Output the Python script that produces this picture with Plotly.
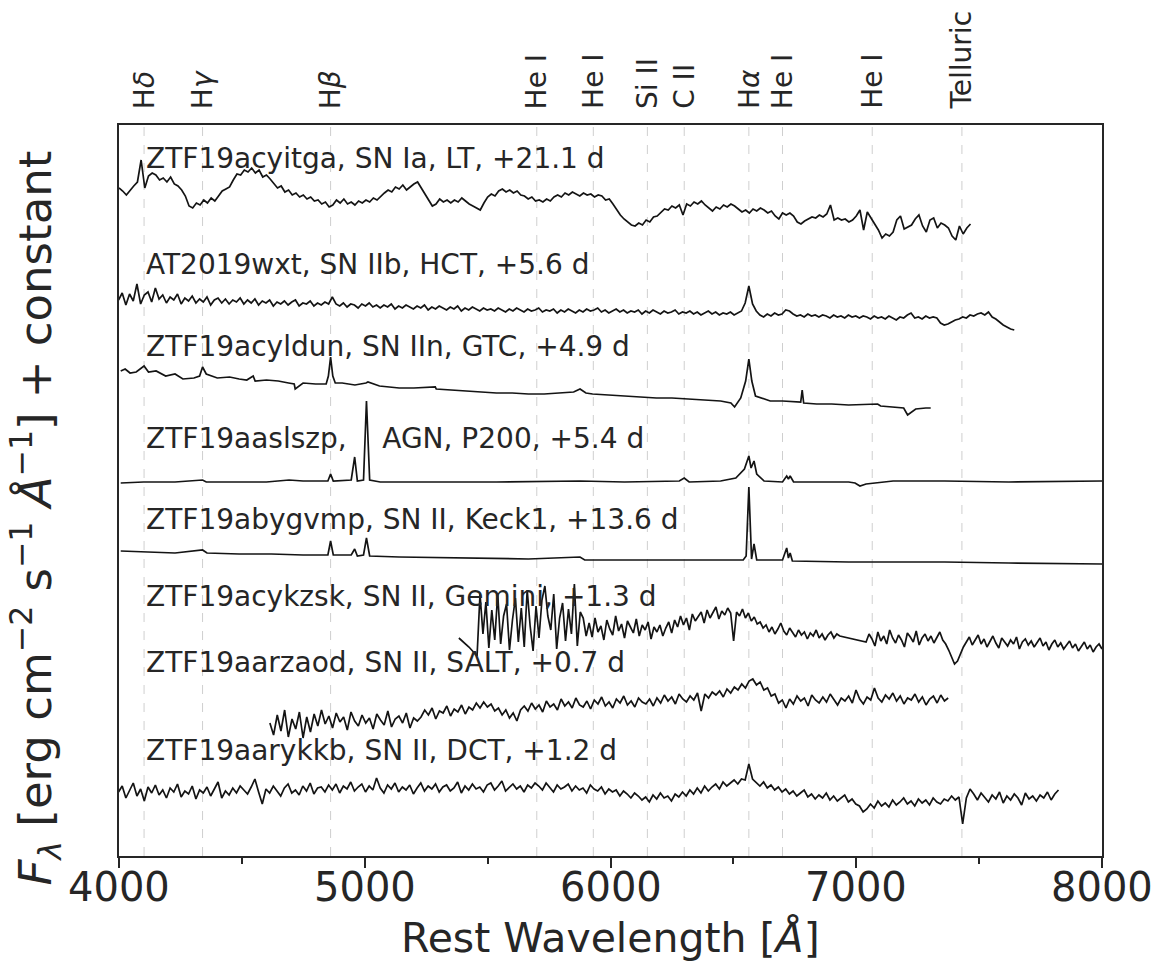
import plotly.graph_objects as go

# --- Spectra: rest wavelength [Å] and scaled flux + constant offset ---
# Coarsely resampled spectra are listed as explicit (wave, flux) pairs; the
# densely sampled ones are given on their uniform wavelength grid (start, step).
ztf19acyitga_start, ztf19acyitga_step = 4000, 15
ztf19acyitga_flux = [668, 665, 661, 666, 670, 674, 696, 668, 680, 683, 681, 676, 678, 674, 679, 672, 670, 666,
                     660, 650, 648, 653, 651, 656, 653, 658, 655, 660, 665, 667, 669, 676, 682, 681, 686, 684,
                     688, 683, 686, 679, 681, 677, 672, 668, 670, 664, 666, 661, 663, 659, 661, 657, 659, 655,
                     656, 652, 654, 649, 651, 656, 653, 657, 652, 654, 651, 655, 653, 656, 654, 658, 656, 660,
                     663, 666, 664, 669, 667, 671, 666, 669, 672, 674, 668, 661, 655, 650, 652, 657, 654, 656,
                     653, 656, 654, 658, 655, 652, 650, 648, 646, 653, 659, 662, 660, 665, 667, 664, 666, 663,
                     665, 661, 660, 657, 659, 655, 656, 654, 657, 655, 659, 661, 659, 663, 661, 664, 662, 660,
                     663, 661, 662, 659, 661, 660, 656, 657, 652, 646, 641, 637, 634, 631, 630, 633, 631, 636,
                     634, 639, 640, 644, 647, 646, 650, 648, 651, 641, 652, 650, 654, 652, 655, 651, 648, 645,
                     649, 647, 651, 649, 652, 650, 647, 644, 646, 643, 647, 645, 648, 646, 643, 645, 640, 637,
                     643, 641, 643, 640, 634, 632, 635, 637, 639, 638, 641, 639, 642, 651, 636, 638, 636, 637,
                     634, 636, 640, 646, 626, 644, 638, 633, 626, 618, 622, 620, 624, 636, 640, 627, 629, 631,
                     637, 641, 630, 624, 636, 638, 628, 633, 631, 628, 620, 616, 630, 622, 628, 632]

at2019wxt_start, at2019wxt_step = 3998, 15
at2019wxt_flux = [556, 563, 551, 562, 555, 572, 552, 561, 564, 554, 568,
                  557, 561, 553, 559, 556, 562, 552, 558, 555, 560, 553, 557, 554, 559, 551, 556, 558, 553,
                  557, 552, 556, 554, 558,
                  552, 556, 553, 557, 551, 555, 553, 556, 550, 554, 552, 555, 551, 554, 556, 550, 553, 552,
                  555, 550, 553, 551, 554, 552,
                  559,
                  552, 550, 553, 549, 552, 551, 548, 552, 550, 553, 549, 551, 548, 551, 549, 552, 547, 550,
                  548, 551, 549, 547, 550, 548, 551, 546, 549, 547, 550, 548, 546, 549, 547, 550, 545, 548,
                  546, 549, 547, 545, 548, 546,
                  547, 545, 548, 546, 544, 547, 545, 548, 546, 544, 547, 545, 546, 548, 544, 546, 545, 547,
                  543, 546, 544, 547, 545, 543, 546, 544, 547, 545, 546, 548, 544, 546, 543, 545, 547, 544,
                  546, 543, 545, 544, 546, 542, 545, 543, 546, 544, 542, 545, 543, 544, 546, 542, 544, 543,
                  545, 542, 544, 541, 543, 545, 542, 544, 541, 543, 542, 544, 541, 543,
                  545, 553, 570, 552, 545,
                  541, 539, 542, 540, 543, 541, 542, 546, 545, 542, 540, 541, 539, 542, 540, 541, 539, 541,
                  540, 538, 541, 539, 540, 538, 541, 539, 540,
                  538, 540, 539, 537, 540, 538, 539, 537, 540, 538, 536, 539, 538, 541, 543, 538, 539, 537,
                  540, 538, 539, 538,
                  533, 531, 532, 534, 536,
                  537, 539, 538, 541, 540, 542, 543, 541, 544, 539, 537, 534, 531, 529, 527, 526]

ztf19acyldun_wave = [4007, 4025, 4045, 4070, 4102, 4120, 4151, 4190, 4228, 4260, 4305, 4328, 4340, 4355, 4400,
                     4450, 4489, 4520, 4546, 4554, 4600, 4648, 4690, 4713, 4717, 4749, 4800, 4843, 4852, 4861,
                     4870, 4880, 4908, 4960, 5005, 5013, 5060, 5140, 5200, 5287, 5291, 5350, 5405, 5470, 5536,
                     5600, 5666, 5730, 5796, 5850, 5876, 5900, 5927, 6000, 6057, 6120, 6187, 6250, 6318, 6380,
                     6448, 6490, 6505, 6530, 6550, 6563, 6575, 6590, 6650, 6700, 6774, 6780, 6786, 6839, 6900,
                     6969, 7040, 7087, 7099, 7150, 7193, 7209, 7242, 7283, 7303]
ztf19acyldun_flux = [485, 487, 483, 484, 490, 484, 485, 480, 482, 477, 478, 480, 489, 482, 478,
                     479, 477, 476, 480, 475, 476, 475, 473, 472, 467, 473, 472, 472, 480, 499,
                     480, 473, 473, 471, 473, 474, 470, 468, 468, 469, 467, 466, 465, 464, 463,
                     463, 462, 462, 463, 464, 467, 463, 462, 461, 460, 459, 458, 458, 457, 456,
                     455, 453, 449, 458, 475, 497, 475, 460, 455, 455, 454, 466, 453, 452, 452,
                     451, 452, 452, 450, 449, 448, 441, 447, 448, 448]

ztf19aaslszp_wave = [4007, 4100, 4228, 4340, 4355, 4489, 4600, 4692, 4749, 4850, 4861, 4872, 4945, 4959, 4970,
                     4995, 5007, 5020, 5063, 5275, 5536, 5876, 6057, 6280, 6300, 6320, 6448, 6510, 6545, 6563,
                     6572, 6584, 6595, 6625, 6700, 6717, 6724, 6731, 6745, 6969, 6995, 7015, 7040, 7150, 7360,
                     7621, 7886, 8000]
ztf19aaslszp_flux = [373, 374, 374, 376, 374, 374, 374, 376, 375, 375, 382, 375, 376, 399, 375,
                     376, 455, 376, 374, 374, 374, 375, 374, 375, 378, 374, 375, 378, 387, 400,
                     388, 395, 382, 375, 374, 380, 377, 380, 374, 374, 373, 370, 372, 375, 375,
                     374, 375, 375]

ztf19abygvmp_wave = [4007, 4100, 4228, 4340, 4358, 4489, 4620, 4749, 4850, 4861, 4872, 4945, 4959, 4970, 4995,
                     5007, 5020, 5140, 5405, 5666, 5876, 5895, 6187, 6318, 6540, 6552, 6563, 6574, 6584, 6595,
                     6700, 6717, 6724, 6731, 6740, 6969, 7360, 7621, 8000]
ztf19abygvmp_flux = [305, 304, 303, 306, 303, 302, 302, 301, 301, 315, 301, 301, 307, 300, 301,
                     318, 300, 299, 298, 297, 299, 296, 296, 296, 296, 300, 369, 297, 312, 296,
                     296, 308, 298, 303, 295, 294, 294, 293, 292]

# Gemini spectrum: short blue tail, two uniformly sampled chunks with a chip gap between
ztf19acykzsk_head_wave = [5383, 5424, 5457]
ztf19acykzsk_head_flux = [218, 209, 200]
ztf19acykzsk_a_start, ztf19acykzsk_a_step = 5469, 12
ztf19acykzsk_a_flux = [262,
                       222, 254, 208, 246, 216, 262, 212, 240, 252, 206, 236, 258, 214, 248, 209, 266, 230, 205,
                       250, 218, 256, 270, 240, 226, 262, 207, 238, 253, 215, 247, 222, 272, 210, 244, 238, 220,
                       233, 219, 238, 224, 230, 216, 236, 227, 221, 240, 225, 232, 218, 235, 229, 223, 237, 220,
                       231, 226, 234, 217, 229, 224,
                       231, 220, 228, 234, 223, 236, 229, 240, 231, 238, 226, 242, 235, 239, 244, 233, 246, 238,
                       243, 249, 237, 245, 241, 248, 243,
                       215,
                       244, 240, 247, 238, 243, 235, 239, 232,
                       234, 228, 231, 224, 229, 222, 227, 233, 225, 221, 228, 223, 219, 226, 221, 224, 217, 223,
                       220, 226, 218, 222, 216, 221, 224, 218, 222, 220]
ztf19acykzsk_b_start, ztf19acykzsk_b_step = 7040, 12
ztf19acykzsk_b_flux = [214, 222, 217, 210, 224, 215, 220, 212, 226, 218, 213, 221, 216, 209, 223, 219, 214, 225,
                       211, 218, 222, 215, 220, 213, 219, 224, 216, 212,
                       206, 198, 192, 195, 203, 209,
                       214, 219, 211, 216, 221, 212, 217, 209, 215, 220, 213, 208, 218, 214, 210, 216, 212, 219,
                       207, 214, 217, 211, 215, 209, 213, 218, 210, 214, 206, 212, 216, 209, 213, 207, 211, 215,
                       208, 212, 205, 210, 214, 207, 211, 204, 209, 212, 207]

ztf19aarzaod_start, ztf19aarzaod_step = 4614, 15
ztf19aarzaod_flux = [133, 121, 141, 125, 146, 119, 137, 127, 144, 118, 139, 124, 142, 130, 146,
                     132, 140, 128, 143, 134, 139, 126, 144, 135, 130, 141, 133, 138, 127, 142, 136, 131, 145,
                     129, 137, 140, 133, 143, 128, 138, 135,
                     139, 146, 141, 148, 137, 145, 143, 150, 140, 147, 144, 151, 142, 149, 146, 153, 148,
                     154, 149, 152, 145, 148, 141, 146, 138, 143, 135, 146,
                     150, 145, 153, 147, 151, 144, 155, 149, 152, 146, 157, 150, 154, 148, 158, 151, 149, 155,
                     147, 156, 152, 159, 150, 154, 148, 157, 153, 160, 151, 155, 149, 158, 154, 152, 157, 150,
                     158, 153, 161, 155, 159, 152, 162, 157, 154, 160, 156, 163, 145, 162, 158, 164,
                     161, 165, 159, 167, 163, 169, 166, 172, 168, 175, 177,
                     171, 174, 166, 168, 160, 162, 153, 156, 148,
                     157, 152, 160, 155, 158, 150, 161, 156, 153, 159, 154, 162, 157, 151, 158, 155, 160, 153,
                     166, 157, 152, 159, 156, 168, 158, 154, 161, 157, 163, 155, 160, 152, 158, 156, 162, 154,
                     159, 151, 157, 160, 153, 161, 155, 158]

ztf19aarykkb_start, ztf19aarykkb_step = 3998, 15
ztf19aarykkb_flux = [64, 70, 58, 66, 73, 60, 67, 55, 69, 63, 71, 61, 66, 58, 68, 64, 72, 59, 65, 62, 70, 57,
                     66, 63, 69, 60, 67, 74, 58, 65, 61, 68, 63, 70,
                     66, 62, 69, 77, 64, 52, 67, 63, 70, 65, 60, 68, 72, 63, 66, 61, 70, 65, 73, 62, 68,
                     69, 64, 71, 66, 72, 63, 70, 67, 74, 65, 69, 72, 64, 70, 66, 78, 68, 63, 71, 67, 73, 64,
                     69, 66, 71, 62, 68, 73, 65, 70, 67, 72, 64, 69, 71, 65, 68, 74, 63, 70, 66, 72, 67, 69,
                     64, 71, 73, 66, 70, 75, 65, 69, 72, 67, 70, 64, 71, 68, 73,
                     70, 66, 73, 68, 64, 71, 67, 69, 72, 65, 70, 66, 68, 63, 71, 67, 65, 69, 62, 67, 64, 66,
                     60, 65, 62, 58, 63, 60, 56,
                     59, 54, 61, 57, 63, 58, 60, 55, 62, 59, 64, 60, 66, 62, 68, 63, 70, 65, 69, 72, 67, 74,
                     70, 73, 76, 72, 77,
                     76, 92, 77,
                     73, 70, 74, 68, 71, 66, 69, 64, 67, 62, 65, 60, 63, 66, 59, 62, 57, 61, 58, 63, 56, 60,
                     55, 58, 61, 54, 57, 52,
                     50, 44, 47, 52, 48, 55, 50, 53, 49, 56, 51, 54, 58, 52, 55, 50, 57, 53, 56, 51, 58, 54,
                     52, 57, 55, 60, 56, 59,
                     32,
                     58, 67, 62, 56, 63, 59, 54, 61, 57, 64, 53, 60, 56, 62, 58, 51, 63, 57, 60, 55, 61, 58,
                     64, 56, 62, 66]


def grid(start, step, values):
    """Wavelength grid for a uniformly sampled spectrum."""
    return [start + step * i for i in range(len(values))]


spectra = [
    (grid(ztf19acyitga_start, ztf19acyitga_step, ztf19acyitga_flux), ztf19acyitga_flux),
    (grid(at2019wxt_start, at2019wxt_step, at2019wxt_flux), at2019wxt_flux),
    (ztf19acyldun_wave, ztf19acyldun_flux),
    (ztf19aaslszp_wave, ztf19aaslszp_flux),
    (ztf19abygvmp_wave, ztf19abygvmp_flux),
    (ztf19acykzsk_head_wave
     + grid(ztf19acykzsk_a_start, ztf19acykzsk_a_step, ztf19acykzsk_a_flux)
     + grid(ztf19acykzsk_b_start, ztf19acykzsk_b_step, ztf19acykzsk_b_flux),
     ztf19acykzsk_head_flux + ztf19acykzsk_a_flux + ztf19acykzsk_b_flux),
    (grid(ztf19aarzaod_start, ztf19aarzaod_step, ztf19aarzaod_flux), ztf19aarzaod_flux),
    (grid(ztf19aarykkb_start, ztf19aarykkb_step, ztf19aarykkb_flux), ztf19aarykkb_flux),
]

NB = "\u00a0"
spec_labels = [
    "ZTF19acyitga, SN Ia, LT, +21.1 d",
    "AT2019wxt, SN IIb, HCT, +5.6 d",
    "ZTF19acyldun, SN IIn, GTC, +4.9 d",
    "ZTF19aaslszp," + NB * 4 + "AGN, P200, +5.4 d",
    "ZTF19abygvmp, SN II, Keck1, +13.6 d",
    "ZTF19acykzsk, SN II, Gemini, +1.3 d",
    "ZTF19aarzaod, SN II, SALT, +0.7 d",
    "ZTF19aarykkb, SN II, DCT, +1.2 d",
]
spec_label_y = [698, 592, 510, 418, 337, 260, 194, 106]

# --- Identified features marked across all spectra ---
line_waves = [4102, 4340, 4861, 5700, 5930, 6150, 6300, 6563, 6700, 7065, 7430]
line_names = ["H<i>δ</i>", "H<i>γ</i>", "H<i>β</i>", "He I", "He I", "Si II", "C II",
              "H<i>α</i>", "He I", "He I", "Telluric"]

x_ticks = [4000, 5000, 6000, 7000, 8000]

INK = "#262626"
FONT = "DejaVu Sans"

fig = go.Figure()
for wave, flux in spectra:
    fig.add_trace(go.Scatter(x=wave, y=flux, mode="lines",
                             line=dict(color="#141414", width=1.7),
                             showlegend=False, hoverinfo="skip"))

for w in line_waves:
    fig.add_shape(type="line", xref="x", yref="paper", x0=w, x1=w, y0=0, y1=1,
                  line=dict(color="#cfcfcf", width=1, dash="dash"), layer="below")

for w, name in zip(line_waves, line_names):
    fig.add_annotation(x=w, xref="x", y=1.019, yref="paper", text=name, textangle=-90,
                       showarrow=False, xanchor="center", yanchor="bottom",
                       font=dict(family=FONT, size=28, color=INK))

for label, ly in zip(spec_labels, spec_label_y):
    fig.add_annotation(x=4100, xref="x", y=ly, yref="y", text=label, showarrow=False,
                       xanchor="left", yanchor="middle",
                       font=dict(family=FONT, size=28, color=INK))

# tick labels placed just under the tick marks
for t in x_ticks:
    fig.add_annotation(x=t, xref="x", y=-0.0424, yref="paper", text=str(t), showarrow=False,
                       xanchor="center", yanchor="middle",
                       font=dict(family=FONT, size=40, color=INK))

fig.add_annotation(x=-0.0855, xref="paper", y=0.463, yref="paper", textangle=-90,
                   text="<i>F</i><sub><i>λ</i></sub> [erg cm<sup>−2</sup> s<sup>−1</sup> "
                        "<i>Å</i><sup>−1</sup>] + constant",
                   showarrow=False, xanchor="center", yanchor="middle",
                   font=dict(family=FONT, size=45, color=INK))

fig.add_annotation(x=0.5, xref="paper", y=-0.112, yref="paper",
                   text="Rest Wavelength [<i>Å</i>]", showarrow=False,
                   xanchor="center", yanchor="middle",
                   font=dict(family=FONT, size=41, color=INK))

fig.update_layout(
    width=1156, height=969,
    margin=dict(l=119, r=54, t=125, b=113),
    paper_bgcolor="white", plot_bgcolor="white",
    font=dict(family=FONT, color=INK),
)
fig.update_xaxes(range=[4000, 8000], tickvals=x_ticks, showticklabels=False,
                 ticks="outside", ticklen=10, tickwidth=1.5, tickcolor=INK,
                 minor=dict(ticks="outside", ticklen=6, tickwidth=1.5, tickcolor=INK, dtick=500,
                            tick0=4000, showgrid=False),
                 showline=True, linecolor=INK, linewidth=1.5, mirror=True,
                 showgrid=False, zeroline=False)
fig.update_yaxes(range=[0, 731], showticklabels=False, ticks="",
                 showline=True, linecolor=INK, linewidth=1.5, mirror=True,
                 showgrid=False, zeroline=False)

fig.write_html("out.html")
